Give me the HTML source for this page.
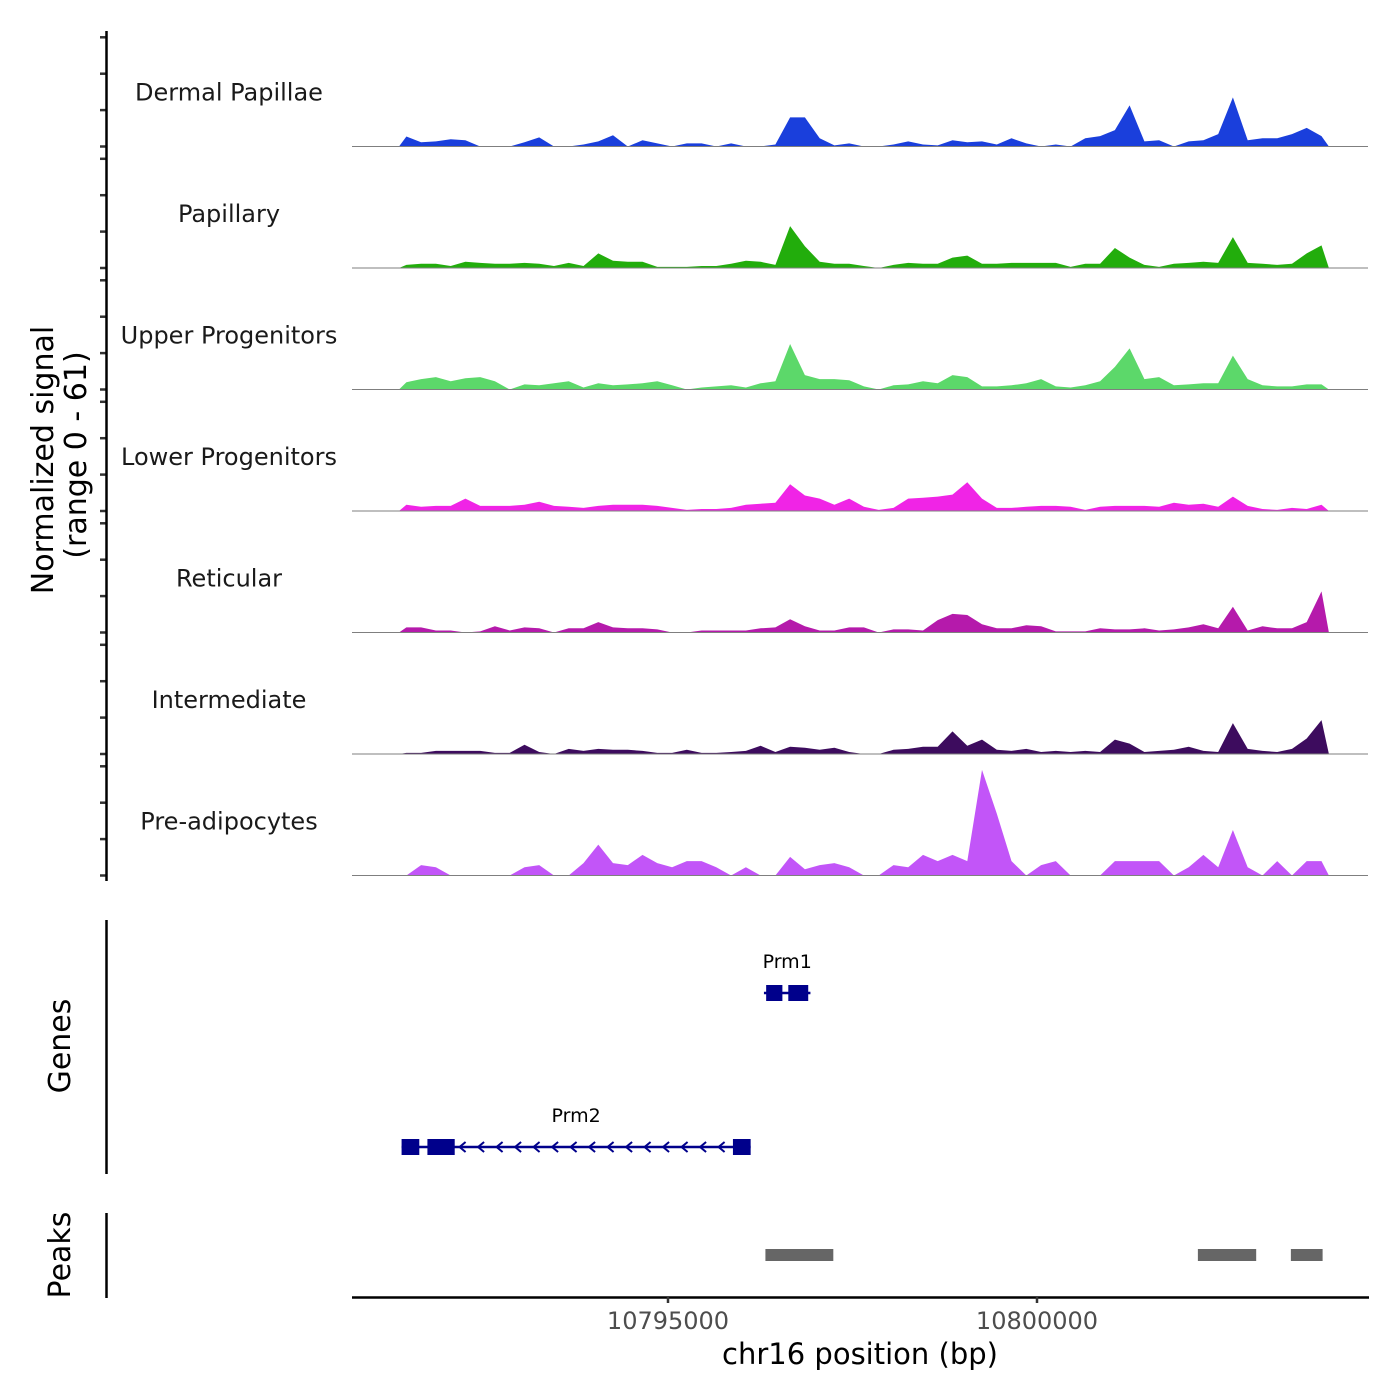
<!DOCTYPE html>
<html><head><meta charset="utf-8"><style>
html,body{margin:0;padding:0;background:#fff;}
svg{display:block;font-family:"DejaVu Sans","Liberation Sans",sans-serif;}
</style></head><body>
<svg id="chart" width="1400" height="1400" viewBox="0 0 1400 1400" xmlns="http://www.w3.org/2000/svg">
<rect width="1400" height="1400" fill="#fff"/>
<g id="tracks"></g>
<g id="yaxis"></g>
<text transform="translate(53,460) rotate(-90)" text-anchor="middle" font-size="30" fill="#000">Normalized signal</text>
<text transform="translate(86,455) rotate(-90)" text-anchor="middle" font-size="30" fill="#000">(range 0 - 61)</text>
<line x1="106.5" y1="920" x2="106.5" y2="1174" stroke="#000" stroke-width="2.5"/>
<text transform="translate(70,1046) rotate(-90)" text-anchor="middle" font-size="30" fill="#000">Genes</text>
<g id="genes"></g>
<line x1="106.5" y1="1213" x2="106.5" y2="1298" stroke="#000" stroke-width="2.5"/>
<text transform="translate(70,1255) rotate(-90)" text-anchor="middle" font-size="30" fill="#000">Peaks</text>
<g id="peaks"></g>
<g id="xaxis"></g>
<text x="860" y="1364" text-anchor="middle" font-size="29" fill="#000">chr16 position (bp)</text>
</svg>
<script>
const trackNames = ["Dermal Papillae","Papillary","Upper Progenitors","Lower Progenitors","Reticular","Intermediate","Pre-adipocytes"];
const trackColors = ["#1a3fdc","#22ad0c","#5cd86a","#f024e6","#b51aab","#3d0c5e","#c255f8"];
const binStartKb = 10791.355;
const binWidthKb = 0.2;
const dermal = [5.5,2.3,2.8,4,3.4,0,0,0,2.3,5,0,0,1.1,2.8,6.2,0,3.4,1.7,0,1.7,1.7,0,1.7,0,0,1.1,16,16,4.5,0.6,1.7,0,0,1.1,2.8,1.1,0.6,3.4,2.3,2.8,1.1,4.5,1.7,0,1.1,0,4.5,5.7,9,22.6,2.8,3.4,0,2.8,3.4,6.8,27,3.4,4.5,4.5,6.8,10.2,5.7];
const papillary = [1.7,2.3,2.3,1.1,3.4,2.8,2.3,2.3,2.8,2.3,1.1,2.8,1.1,8,4,3.4,3.4,0.6,0.6,0.6,1.1,1.1,2.3,4,3.4,1.7,23,12,3.4,2.3,2.3,1.1,0,1.7,2.8,2.3,2.3,5.7,6.8,2.3,2.3,2.8,2.8,2.8,2.8,0.6,2.3,2.3,11,5.7,1.7,0.6,2.3,2.8,3.4,2.8,17,2.8,2.3,1.7,2.3,8,12.4];
const upper = [4,5.7,6.8,4.5,6.2,6.8,4.5,0,2.8,2.3,3.4,4.5,1.1,3.4,2.3,2.8,3.4,4.5,2.3,0,1.1,1.7,2.3,1.1,3.4,4.5,25,7.9,5.7,5.7,5.1,1.7,0,2.3,2.8,4.5,3.4,7.9,6.8,1.7,1.7,2.3,3.4,5.7,1.7,1.1,2.3,4.5,12.4,22.6,5.7,6.8,2.3,2.8,3.4,3.4,18.6,5.7,2.3,1.7,1.7,2.8,2.8];
const lower = [3.4,2.3,2.8,2.8,6.8,2.8,2.8,2.8,3.4,5.1,2.8,2.3,1.7,2.8,3.4,3.4,3.4,2.8,1.7,0.6,1.1,1.1,1.7,3.4,4,4.5,14.7,8.5,6.8,3.4,6.8,2.3,0.6,1.7,6.8,7.3,7.9,9,15.8,6.8,1.7,1.7,2.3,2.8,2.8,2.3,0.6,2.3,2.8,2.8,2.8,2.3,4.5,3.4,4,2.3,7.9,2.8,1.1,0.6,1.7,1.1,3.4];
const reticular = [2.8,2.8,1.1,1.1,0,0.6,3.4,1.1,2.8,2.3,0,2.3,2.3,5.7,2.8,2.3,2.3,1.7,0,0,1.1,1.1,1.1,1.1,2.3,2.8,7.3,3.4,1.1,1.1,2.8,2.8,0,1.7,1.7,1.1,6.8,10.2,9.6,4.5,2.3,2.3,4,3.4,0.6,0.6,0.6,2.3,1.7,1.7,2.3,1.1,1.7,2.8,4.5,2.3,14.1,1.1,3.4,2.3,2.3,5.7,22.6];
const intermediate = [0.6,0.6,1.7,1.7,1.7,1.7,0.6,0.6,5.1,1.1,0,2.8,1.7,2.8,2.3,2.3,1.7,0.6,0.6,2.3,0.6,0.6,1.1,1.7,4.5,1.1,4,3.4,2.3,3.4,1.1,0,0,2.3,2.8,4,4,12.4,4.5,7.9,2.3,1.7,2.8,1.1,1.7,1.1,1.7,1.1,7.9,5.7,1.1,1.7,2.3,4,1.7,1.1,17,2.8,1.7,1.1,2.8,8.5,18.6];
const preadipo = [0,5.7,4.5,0,0,0,0,0,4.5,5.7,0,0,6.8,17,6.8,5.7,11.3,6.8,4.5,7.9,7.9,4.5,0,4.5,0,0,10.2,3.4,5.7,6.8,4.5,0,0,5.7,4.5,11.3,7.9,11.3,7.9,58,34,7.9,0,5.7,7.9,0,0,0,7.9,7.9,7.9,7.9,0,4.5,11.3,4.5,25,4.5,0,7.9,0,7.9,7.9];
const tracksData = [dermal,papillary,upper,lower,reticular,intermediate,preadipo];
const xTicks = [10795000,10800000];
const xTickLabels = ["10795000","10800000"];
const yTickValues = [0,20,40,60];
const geneNames = ["Prm1","Prm2"];
const geneStartKb = [10796.3,10791.39];
const geneEndKb = [10796.93,10796.12];
const geneRow = [0,1];
const exonStartKb = [10796.33,10796.63,10791.39,10791.74,10795.88];
const exonEndKb = [10796.55,10796.9,10791.63,10792.11,10796.12];
const exonGene = [0,0,1,1,1];
const peakStartKb = [10796.32,10802.18,10803.44];
const peakEndKb = [10797.24,10802.97,10803.87];

const NS="http://www.w3.org/2000/svg";
function mk(tag,attrs,parent){const e=document.createElementNS(NS,tag);for(const k in attrs)e.setAttribute(k,attrs[k]);parent.appendChild(e);return e;}
const xScale = kb => 668 + (kb-10795)*73.8;
const xBp = bp => xScale(bp/1000);
const pxPerUnit = 1.82;
const trackBase = i => 146.5 + 121.5*i;
const yScale = (v,i) => trackBase(i) - v*pxPerUnit;

const tracksG=document.getElementById('tracks');
const yaxG=document.getElementById('yaxis');
tracksData.forEach((vals,i)=>{
  const g=mk('g',{},tracksG);
  
  
  const base=trackBase(i);
  let d='M'+xScale(binStartKb).toFixed(1)+','+base;
  vals.forEach((v,j)=>{d+=' L'+xScale(binStartKb+binWidthKb*(j+0.5)).toFixed(1)+','+yScale(v,i).toFixed(1);});
  d+=' L'+xScale(binStartKb+binWidthKb*vals.length).toFixed(1)+','+base+' Z';
  const p=mk('path',{d:d,fill:trackColors[i],stroke:'none'},g);
  
  
  const bl=mk('line',{x1:352,x2:1368,y1:base,y2:base,stroke:'#7f7f7f','stroke-width':1},g);
  
  
  const t=mk('text',{x:229,y:base-46,'text-anchor':'middle','font-size':24,fill:'#1a1a1a'},g);
  
  
  t.textContent=trackNames[i];
  yTickValues.forEach(tv=>{
    const tk=mk('line',{x1:100,x2:106,y1:yScale(tv,i),y2:yScale(tv,i),stroke:'#333','stroke-width':2.5},yaxG);
    
    
  });
});
const yl=mk('line',{x1:106.5,x2:106.5,y1:31,y2:881,stroke:'#000','stroke-width':2.5},yaxG);



const genesG=document.getElementById('genes');
const rowY=[993,1147];
const labelY=[968,1122];
geneNames.forEach((n,gi)=>{
  const y=rowY[geneRow[gi]];
  const x1=xScale(geneStartKb[gi]), x2=xScale(geneEndKb[gi]);
  const ln=mk('line',{x1:x1,x2:x2,y1:y,y2:y,stroke:'#00008b','stroke-width':2.5},genesG);
  
  
  for(let x=x1+60;x<x2-20;x+=18.5){
    const a=mk('path',{d:`M${x+4},${y-5} L${x-2},${y} L${x+4},${y+5}`,fill:'none',stroke:'#00008b','stroke-width':2},genesG);
    
    
  }
  const t=mk('text',{x:(x1+x2)/2,y:labelY[geneRow[gi]],'text-anchor':'middle','font-size':19,fill:'#000'},genesG);
  
  
  t.textContent=n;
});
exonStartKb.forEach((s,k)=>{
  const y=rowY[geneRow[exonGene[k]]];
  const r=mk('rect',{x:xScale(s),y:y-8,width:xScale(exonEndKb[k])-xScale(s),height:16,fill:'#00008b'},genesG);
  
  
});

const peaksG=document.getElementById('peaks');
peakStartKb.forEach((s,k)=>{
  const r=mk('rect',{x:xScale(s),y:1249,width:xScale(peakEndKb[k])-xScale(s),height:12,fill:'#666'},peaksG);
  
  
});

const xg=document.getElementById('xaxis');
const xl=mk('line',{x1:352,x2:1369,y1:1297.5,y2:1297.5,stroke:'#000','stroke-width':2.5},xg);


xTicks.forEach((v,k)=>{
  const x=xBp(v);
  const tk=mk('line',{x1:x,x2:x,y1:1297,y2:1303,stroke:'#333','stroke-width':2.5},xg);
  
  
  const t=mk('text',{x:x,y:1329,'text-anchor':'middle','font-size':24,fill:'#4d4d4d'},xg);
  
  
  t.textContent=xTickLabels[k];
});
</script>
</body></html>
